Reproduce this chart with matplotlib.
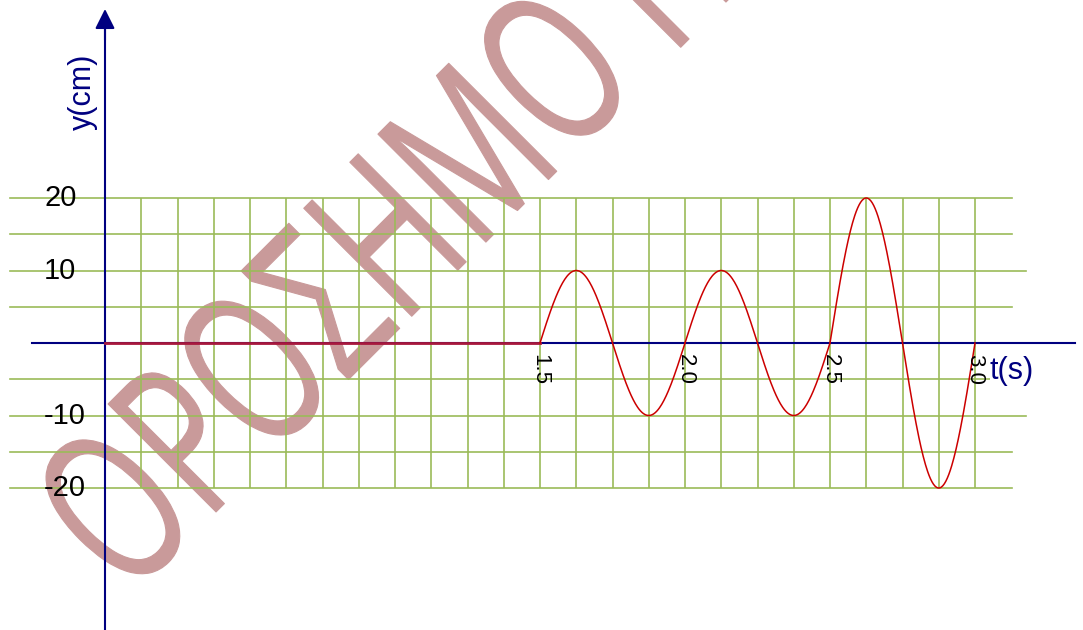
import numpy as np
import matplotlib.pyplot as plt
from matplotlib.patheffects import AbstractPathEffect
from matplotlib.transforms import Affine2D

plt.rcParams['font.family'] = ['Liberation Sans', 'DejaVu Sans']

# y(t) of the point: at rest until 1.5 s, then three oscillations of period 0.5 s
t_rest = [0.0, 1.5]
y_rest = [0, 0]
seg_start = [1.5, 2.0, 2.5]
seg_end = [2.0, 2.5, 3.0]
seg_amp = [10, 10, 20]      # cm
period = 0.5                # s

x_ticks = [1.5, 2.0, 2.5, 3.0]
x_tick_labels = ['1.5', '2.0', '2.5', '3.0']
y_ticks = [20, 10, -10, -20]
y_tick_labels = ['20', '10', '-10', '-20']
h_grid = [20, 15, 10, 5, -5, -10, -15, -20]
h_grid_long = [10, -10]
grid_step = 0.125
t_grid_max = 3.0

watermark = 'ΟΡΟΣΗΜΟ Π'

NAVY = '#000080'
GREEN = '#9bbb59'
RED = '#cc0000'
PINK = '#c99a9a'

# pixel geometry of the reference (origin of the axes at pixel 105, 343)
W, H = 1083, 630
X0, SX = 105, 290.0     # px, px per second
Y0, SY = 343, 7.25      # px, px per cm


def tx(px):
    return (px - X0) / SX


def ty(py):
    return (Y0 - py) / SY


class Squeeze(AbstractPathEffect):
    """Draw text narrower than the font, with rounded stroke ends."""
    def __init__(self, sx, lw):
        super().__init__()
        self.sx = sx
        self.lw = lw

    def draw_path(self, renderer, gc, tpath, affine, rgbFace=None):
        gc0 = renderer.new_gc()
        gc0.copy_properties(gc)
        gc0.set_linewidth(self.lw)
        gc0.set_joinstyle('round')
        gc0.set_capstyle('round')
        gc0.set_foreground(rgbFace)
        renderer.draw_path(gc0, tpath, Affine2D().scale(self.sx, 1.0) + affine, rgbFace)
        gc0.restore()


fig = plt.figure(figsize=(W / 100, H / 100), dpi=100)
ax = fig.add_axes([0, 0, 1, 1])
ax.set_xlim(tx(0), tx(W))
ax.set_ylim(ty(H), ty(0))
ax.axis('off')

# watermark
ax.text(128 / W, 1 - 600 / H, watermark, transform=ax.transAxes, fontsize=154,
        family=['Open Sans', 'Liberation Sans'], color=PINK, rotation=45,
        rotation_mode='anchor', ha='left', va='baseline',
        path_effects=[Squeeze(0.665, 0.8)], zorder=0)

# grid
t_lines = np.arange(grid_step, t_grid_max + 1e-9, grid_step)
ax.vlines(t_lines, min(h_grid), max(h_grid), color=GREEN, lw=1.2, zorder=1)
for yv in h_grid:
    right = tx(1026) if yv in h_grid_long else tx(1012)
    ax.plot([tx(10), right], [yv, yv], color=GREEN, lw=1.2, zorder=1)

# axes with arrows
ax.plot([tx(32), tx(1075)], [0, 0], color=NAVY, lw=1.5, zorder=2)
ax.annotate('', xy=(tx(1091), 0), xytext=(tx(1060), 0),
            arrowprops=dict(arrowstyle='-|>,head_length=0.4,head_width=0.2',
                            color=NAVY, lw=1.5, mutation_scale=30,
                            shrinkA=0, shrinkB=0), zorder=2)
ax.plot([0, 0], [ty(H), ty(20)], color=NAVY, lw=1.5, zorder=2)
ax.annotate('', xy=(0, ty(9)), xytext=(0, ty(40)),
            arrowprops=dict(arrowstyle='-|>,head_length=0.4,head_width=0.2',
                            color=NAVY, lw=1.5, mutation_scale=30,
                            shrinkA=0, shrinkB=0), zorder=2)

# the curve
ax.plot(t_rest, y_rest, color='#a8183c', lw=2.0, zorder=3)
for a, b, amp in zip(seg_start, seg_end, seg_amp):
    tt = np.linspace(a, b, 200)
    ax.plot(tt, amp * np.sin(2 * np.pi * (tt - a) / period), color=RED, lw=1.1, zorder=3)

# tick labels
for t, lab in zip(x_ticks, x_tick_labels):
    ax.text(t, ty(354), lab, fontsize=16, rotation=-90, ha='center', va='top', zorder=4)
for yv, lab in zip(y_ticks, y_tick_labels):
    ax.text(tx(44), yv, lab, fontsize=21, ha='left', va='center', zorder=4)

ax.text(tx(83), ty(92), 'y(cm)', fontsize=22, color=NAVY, rotation=90,
        ha='center', va='center', zorder=4)
ax.text(tx(1012), ty(371), 't(s)', fontsize=22, color=NAVY, ha='center', va='center',
        bbox=dict(facecolor='white', edgecolor='none', pad=0), zorder=4)

fig.savefig('out.png', dpi=100)
